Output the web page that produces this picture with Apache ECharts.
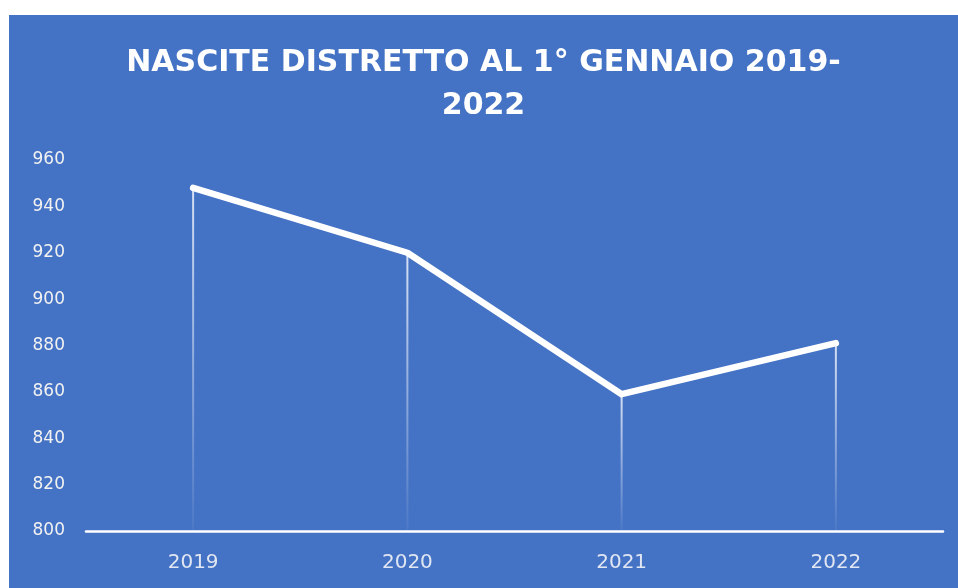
<!DOCTYPE html>
<html>
<head>
<meta charset="utf-8">
<script src="https://cdn.jsdelivr.net/npm/echarts@6/dist/echarts.min.js"></script>
<style>
  html, body { margin: 0; padding: 0; background: #fff; }
  #chart { position: absolute; left: 9px; top: 15px; width: 949px; height: 573px; }
</style>
</head>
<body>
<div id="chart"></div>
<script>
const years = ['2019', '2020', '2021', '2022']
const births = [948, 920, 859, 881]
const yTicks = [800, 820, 840, 860, 880, 900, 920, 940, 960]

const chart = echarts.init(document.getElementById('chart'), null, { renderer: 'canvas' })

const text1 = '#f2f2f2'
const text2 = '#e0e6f2'

chart.setOption({
  backgroundColor: '#4472C4',
  animation: false,
  title: {
    text: 'NASCITE DISTRETTO AL 1° GENNAIO 2019-\n2022',
    left: 'center',
    top: 22,
    textStyle: {
      color: '#ffffff',
      fontFamily: 'DejaVu Sans',
      fontWeight: 'bold',
      fontSize: 30,
      lineHeight: 43
    }
  },
  grid: { left: 77, right: 15, top: 145, bottom: 57, containLabel: false },
  xAxis: {
    type: 'category',
    data: years,
    boundaryGap: true,
    axisLine: { lineStyle: { color: '#ffffff', width: 2.5 } },
    axisTick: { show: false },
    axisLabel: { color: text2, fontSize: 20, fontFamily: 'DejaVu Sans', margin: 22 }
  },
  yAxis: {
    type: 'value',
    min: yTicks[0],
    max: yTicks[yTicks.length - 1],
    interval: 20,
    axisLine: { show: false },
    axisTick: { show: false },
    splitLine: { show: false },
    axisLabel: { color: text1, fontSize: 17, fontFamily: 'DejaVu Sans', margin: 21 }
  },
  series: [
    {
      name: 'drop',
      type: 'bar',
      data: births,
      barWidth: 2,
      silent: true,
      itemStyle: {
        color: new echarts.graphic.LinearGradient(0, 0, 0, 1, [
          { offset: 0, color: 'rgba(230, 236, 248, 0.9)' },
          { offset: 1, color: 'rgba(230, 236, 248, 0.05)' }
        ])
      },
      z: 1
    },
    {
      name: 'Nascite',
      type: 'line',
      data: births,
      showSymbol: false,
      lineStyle: { color: '#ffffff', width: 6.5, cap: 'round', join: 'round' },
      z: 3
    }
  ]
})
</script>
</body>
</html>
